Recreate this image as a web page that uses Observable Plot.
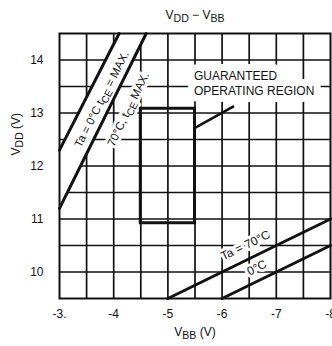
<!DOCTYPE html>
<html><head><meta charset="utf-8">
<script src="https://cdn.jsdelivr.net/npm/d3@7"></script>
<script src="https://cdn.jsdelivr.net/npm/@observablehq/plot@0.6"></script>
<style>
body{margin:0;background:#fff;}
#chart svg{display:block;}
</style></head><body><div id="chart"></div>
<script>
// axis ticks
const xTicks = [-3, -4, -5, -6, -7, -8];
const xTickLabels = ["-3.", "-4", "-5", "-6", "-7", "-8"];
const yTicks = [10, 11, 12, 13, 14];
const gridX = [-3.5, -4, -4.5, -5, -5.5, -6, -6.5, -7, -7.5];
const gridY = [10, 10.5, 11, 11.5, 12, 12.5, 13, 13.5, 14];

// boundary lines, [VBB, VDD]
const line0cMax = [[-3, 12.3], [-4.1, 14.5]];
const line70cMax = [[-3, 11.2], [-4.6, 14.5]];
const line70c = [[-5, 9.5], [-8, 11.0]];
const line0c = [[-6, 9.5], [-8, 10.5]];

// guaranteed operating region
const regionVBB = [-4.5, -5.5];
const regionVDD = [10.92, 13.08];
const arrowPts = [[-6.22, 13.13], [-5.5, 12.72]];

// texts
const titleText = "V_{DD} − V_{BB}";
const xLabel = "V_{BB} (V)";
const yLabel = "V_{DD} (V)";
const annotations = [
  {x: -3.78, y: 13.26, r: -63, t: "Ta = 0°C t_{CE} = MAX.", a: "middle", h: 6, s: 11.5},
  {x: -4.27, y: 13.07, r: -64, t: "70°C, t_{CE} MAX.", a: "middle", h: 6, s: 11.5},
  {x: -5.48, y: 13.70, r: 0, t: "GUARANTEED", a: "start", h: 14, s: 12},
  {x: -5.48, y: 13.42, r: 0, t: "OPERATING REGION", a: "start", h: 14, s: 12},
  {x: -6.43, y: 10.50, r: -26, t: "Ta = 70°C", a: "middle", h: 6, s: 12},
  {x: -6.64, y: 10.08, r: -26, t: "0°C", a: "middle", h: 6, s: 12}
];

const band = [...line0cMax, ...line70cMax.slice().reverse()];
const P = d => d[0], Q = d => d[1];
const ink = "#111";

const annoMarks = (halo) => annotations.map(a => Plot.text([a], {
  x: "x", y: "y", text: "t", rotate: a.r, textAnchor: a.a, fontSize: a.s,
  fill: halo ? "white" : ink,
  ...(halo ? {stroke: "white", strokeWidth: a.h, strokeLinejoin: "round"} : {})
}));

const plot = Plot.plot({
  width: 332, height: 346,
  marginTop: 33, marginBottom: 48, marginLeft: 59, marginRight: 2,
  style: {fontFamily: "'Liberation Sans', Arial, sans-serif", fontSize: "12px", background: "white", color: ink, overflow: "visible"},
  x: {domain: [-3, -8], ticks: xTicks, tickFormat: d => xTickLabels[xTicks.indexOf(d)], tickSize: 0, tickPadding: 11, label: null},
  y: {domain: [9.5, 14.5], ticks: yTicks, tickFormat: d => String(d), tickSize: 0, tickPadding: 16, label: null},
  marks: [
    Plot.ruleX(gridX, {stroke: ink, strokeWidth: 1.7}),
    Plot.ruleY(gridY, {stroke: ink, strokeWidth: 1.7}),
    Plot.line(band, {x: P, y: Q, fill: "white", stroke: "white", strokeWidth: 1}),
    ...annoMarks(true),
    ...annoMarks(false),
    Plot.line(line0cMax, {x: P, y: Q, stroke: ink, strokeWidth: 3}),
    Plot.line(line70cMax, {x: P, y: Q, stroke: ink, strokeWidth: 3}),
    Plot.line(line70c, {x: P, y: Q, stroke: ink, strokeWidth: 3}),
    Plot.line(line0c, {x: P, y: Q, stroke: ink, strokeWidth: 3}),
    Plot.rect([0], {x1: () => regionVBB[0], x2: () => regionVBB[1], y1: () => regionVDD[0], y2: () => regionVDD[1], fill: "none", stroke: ink, strokeWidth: 3}),
    Plot.link([arrowPts], {x1: d => d[0][0], y1: d => d[0][1], x2: d => d[1][0], y2: d => d[1][1], stroke: ink, strokeWidth: 2.5}),
    Plot.frame({stroke: ink, strokeWidth: 2}),
    Plot.text([titleText], {frameAnchor: "top", dy: -23.5, fill: ink}),
    Plot.text([xLabel], {frameAnchor: "bottom", dy: 37, fill: ink}),
    Plot.text([yLabel], {frameAnchor: "left", dx: -43, dy: -10.5, rotate: -90, fill: ink})
  ]
});

function applySubs(svg) {
  d3.select(svg).selectAll("text").each(function() {
    const t = this.textContent;
    if (!t.includes("_{")) return;
    const parts = t.split(/(_\{[^}]*\})/).filter(s => s.length);
    const sel = d3.select(this);
    sel.text(null);
    let shifted = false;
    for (const p of parts) {
      const ts = sel.append("tspan");
      if (p.startsWith("_{")) {
        ts.text(p.slice(2, -1)).attr("font-size", "0.88em");
        if (!shifted) ts.attr("dy", 3);
        shifted = true;
      } else {
        ts.text(p);
        if (shifted) { ts.attr("dy", -3); shifted = false; }
      }
    }
  });
}
applySubs(plot);
document.getElementById("chart").appendChild(plot);
</script></body></html>
